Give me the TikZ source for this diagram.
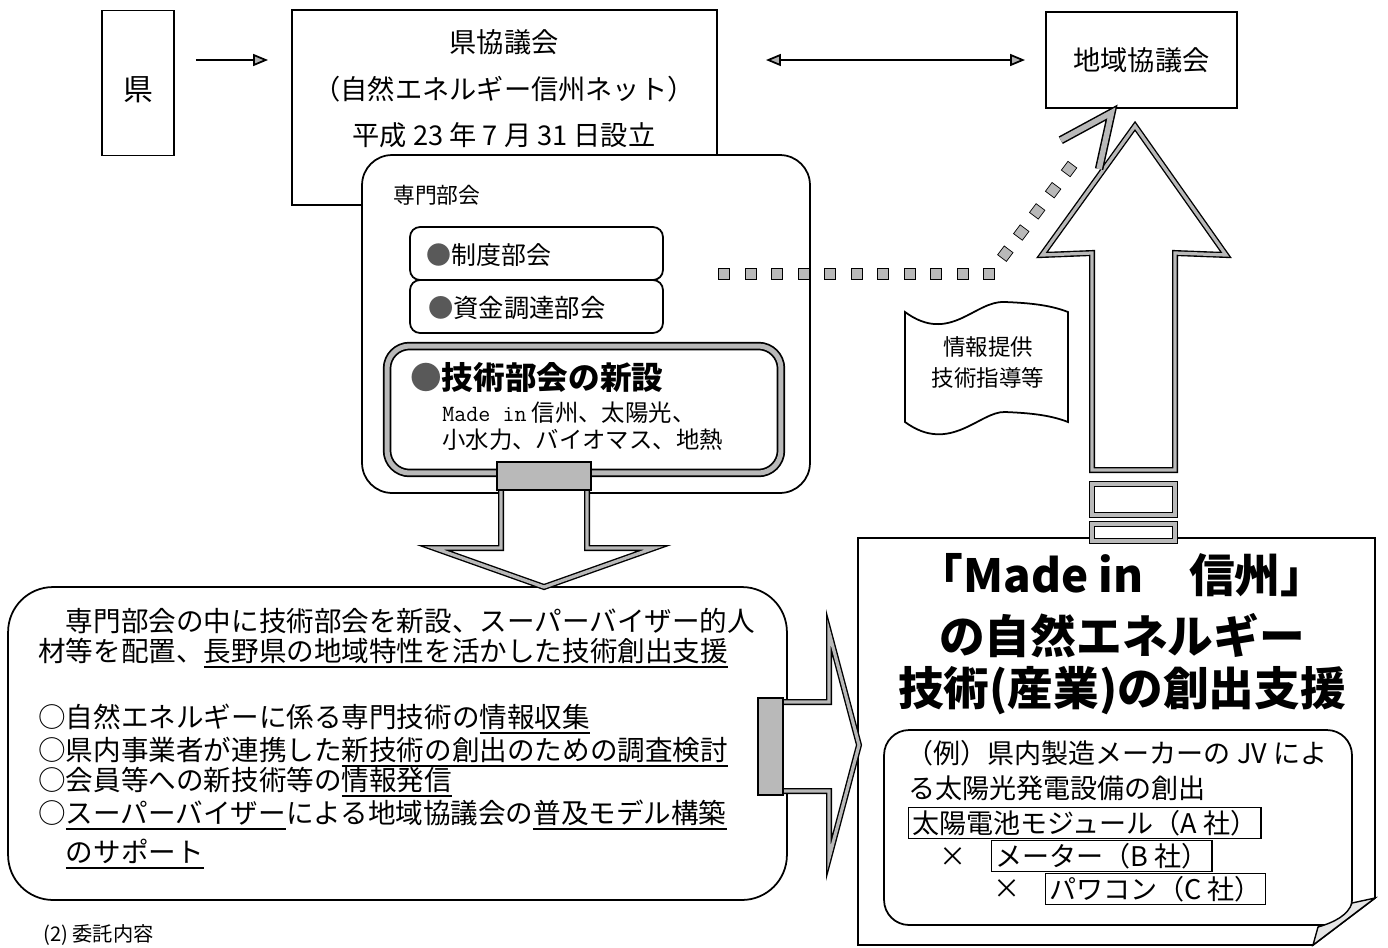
\documentclass[tikz,border=0pt]{standalone}
\usepackage{fontspec}
\setmainfont{Noto Sans CJK JP}
\usetikzlibrary{arrows.meta,decorations.markings}
\newcommand\fsz[1]{\fontsize{#1pt}{#1pt}\selectfont}
\newcommand\ulx[1]{\setbox0\hbox{#1}\rlap{\rule[-0.22em]{\wd0}{0.8pt}}\box0}
\begin{document}
\begin{tikzpicture}[x=0.02cm,y=-0.02cm,
  box/.style={draw,line width=1pt,fill=white,inner sep=0pt,outer sep=0pt},
  t/.style={inner sep=0pt},
  thinarrow/.style={line width=1pt},
  tiphead/.style={},
  dbl/.style={draw=black,fill=white,line width=0.12cm,line join=miter,
    postaction={draw=gray!55,line width=0.065cm}},
  gfill/.style={fill=gray!55,draw=black,line width=0.8pt},
  lbl/.style={draw,line width=0.8pt,inner xsep=2pt,inner ysep=0pt,minimum height=0.62cm,anchor=west,font=\fsz{15.4}},
]
\useasboundingbox (0,0) rectangle (1388,947);
\fill[white] (0,0) rectangle (1388,947);

% top row
\node[box,minimum width=1.44cm,minimum height=2.9cm] (ken) at (138,83) {};
\node[t,font=\fsz{17}] at (138,90) {県};

\node[box,minimum width=8.5cm,minimum height=3.9cm] (kyo) at (504.5,107.5) {};
\node[t,font=\fsz{15.5}] at (504,42) {県協議会};
\node[t,font=\fsz{15.5}] at (504,89) {（自然エネルギー信州ネット）};
\node[t,font=\fsz{15.5}] at (504,135) {平成 23 年 7 月 31 日設立};

\node[box,minimum width=3.82cm,minimum height=1.92cm,font=\fsz{15.5}] (chiiki) at (1141.5,60) {地域協議会};

\coordinate (y60) at (0,60);
\draw[thinarrow,-{Triangle[length=0.3cm,width=0.24cm,fill=gray!60]},shorten <=0.44cm,shorten >=0.48cm]
  (ken.east |- y60) -- (kyo.west |- y60);
\draw[thinarrow,{Triangle[length=0.3cm,width=0.24cm,fill=gray!60]}-{Triangle[length=0.3cm,width=0.24cm,fill=gray!60]},shorten <=0.98cm,shorten >=0.42cm]
  (kyo.east |- y60) -- (chiiki.west |- y60);

% senmon bukai
\node[box,rounded corners=0.6cm,minimum width=8.96cm,minimum height=6.76cm] (senmon) at (586,324) {};
\node[t,anchor=west,font=\fsz{12.4}] at (393,195) {専門部会};

\node[box,rounded corners=0.2cm,minimum width=5.06cm,minimum height=1.06cm] (seido) at (536.5,253.5) {};
\node[t,anchor=west,font=\fsz{14.2}] at (426,255) {\textcolor{black!65}{●}制度部会};
\node[box,rounded corners=0.2cm,minimum width=5.06cm,minimum height=1.06cm] (shikin) at (536.5,306.5) {};
\node[t,anchor=west,font=\fsz{14.4}] at (428,308) {\textcolor{black!65}{●}資金調達部会};

\node[draw,fill=white,line width=0.17cm,rounded corners=0.45cm,outer sep=0pt,minimum width=7.88cm,minimum height=2.54cm] (gijutsu) at (584,409.5) {};
\draw[gray!55,line width=0.1cm,rounded corners=0.45cm] (gijutsu.north west) rectangle (gijutsu.south east);
\node[t,anchor=west,font=\fsz{18}\bfseries] at (410,377) {\textcolor{black!65}{●}技術部会の新設};
\node[t,anchor=west,font=\fsz{13.3}] at (442,413) {{\ttfamily Made in} 信州、太陽光、};
\node[t,anchor=west,font=\fsz{13.3}] at (442,440) {小水力、バイオマス、地熱};

% wave
\draw[line width=1pt,fill=white] (905,312) .. controls (950,345) and (975,300) .. (1005,302)
  .. controls (1030,303) and (1050,305) .. (1068,312) -- (1068,422)
  .. controls (1050,415) and (1030,413) .. (1005,412)
  .. controls (980,411) and (950,455) .. (905,422) -- cycle;
\node[t,font=\fsz{12.8}] at (988,347) {情報提供};
\node[t,font=\fsz{12.8}] at (988,378) {技術指導等};

% big box
\draw[line width=1pt,fill=white] (858,945) -- (858,538) -- (1375,538) -- (1375,898) -- (1313,945) -- cycle;
\node[t,font=\fsz{26}\bfseries] at (1122,575) {「Made in　信州」};
\node[t,font=\fsz{26}\bfseries] at (1122,636) {の自然エネルギー};
\node[t,font=\fsz{26}\bfseries] at (1122,691) {技術(産業)の創出支援};

\node[box,rounded corners=0.5cm,minimum width=9.36cm,minimum height=3.9cm] (rei) at (1118,827.5) {};
\node[t,anchor=west,font=\fsz{15.4}] at (906,753) {（例）県内製造メーカーの JV によ};
\node[t,anchor=west,font=\fsz{15.4}] at (908,788) {る太陽光発電設備の創出};
\node[lbl] (ma) at (908,823) {太陽電池モジュール（A 社）};
\node[t,font=\fsz{15.4}] at (953,857) {×};
\node[lbl] (mb) at (991,856) {メーター（B 社）};
\node[t,font=\fsz{15.4}] at (1007,889) {×};
\node[lbl] (mc) at (1045,889) {パワコン（C 社）};
\draw[line width=0.8pt,fill=gray!20] (1352,903) -- (1375,898) -- (1313,945) -- (1318,927)
  .. controls (1335,922) and (1348,915) .. (1352,903);

% big up arrow with stripes
\draw[dbl] (1135,126) -- (1226,255) -- (1175,253) -- (1175,470) -- (1092,470) -- (1092,253) -- (1042,255) -- cycle;
\draw[dbl] (1092,484) rectangle (1175,515);
\draw[dbl] (1092,524) rectangle (1175,541);

% dotted connector
\coordinate (dstart) at (724,274);
\coordinate (dcorner) at (990,274);
\coordinate (dend) at (1112,112);
\path[decoration={markings,
    mark=between positions 0 and -0.9cm step 0.53cm with {\filldraw[fill=gray!55,draw=black,line width=0.4pt] (-0.11cm,-0.11cm) rectangle (0.11cm,0.11cm);},
    mark=at position 0.999 with {\draw[black,line width=0.17cm] (-1.05cm,0.48cm) -- (0,0) -- (-1.05cm,-0.48cm);
                                  \draw[gray!55,line width=0.11cm] (-1.05cm,0.48cm) -- (0,0) -- (-1.05cm,-0.48cm);}
  },decorate] (dstart) -- (dcorner) -- (dend);

% left box
\node[box,rounded corners=0.9cm,minimum width=15.58cm,minimum height=6.26cm] (lbox) at (397.5,743.5) {};
\begin{scope}[every node/.style={t,anchor=base west,font=\fsz{15.7}}]
\node at (38,631.5) {　専門部会の中に技術部会を新設、スーパーバイザー的人};
\node at (38,661.5) {材等を配置、\ulx{長野県の地域特性を活かした技術創出支援}};
\node at (38,727.5) {○自然エネルギーに係る専門技術の\ulx{情報収集}};
\node at (38,760.5) {○県内事業者が連携した\ulx{新技術の創出のための調査検討}};
\node at (38,790.5) {○会員等への新技術等の\ulx{情報発信}};
\node at (38,823.5) {○\ulx{スーパーバイザー}による地域協議会の\ulx{普及モデル構築}};
\node at (38,862.5) {　\ulx{のサポート}};
\end{scope}

% down arrow
\draw[dbl] (501,465) -- (587,465) -- (587,548) -- (654,548) -- (544,587) -- (434,548) -- (501,548) -- cycle;
\filldraw[gfill] (497,462) rectangle (591,490);

% right arrow
\draw[dbl] (760,702) -- (829,702) -- (829,632) -- (859,745) -- (829,858) -- (829,791) -- (760,791) -- cycle;
\filldraw[gfill] (758,698) rectangle (783,795);

\node[t,anchor=north west,font=\fsz{11.5}] at (43,924) {(2) 委託内容};
\end{tikzpicture}
\end{document}
